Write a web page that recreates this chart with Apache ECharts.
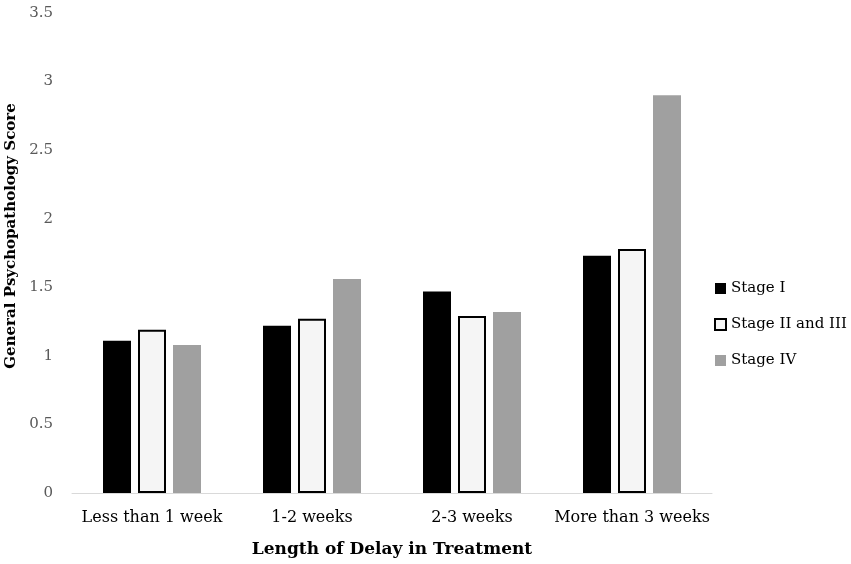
<!DOCTYPE html>
<html>
<head>
<meta charset="utf-8">
<script src="https://cdn.jsdelivr.net/npm/echarts@6/dist/echarts.min.js"></script>
<style>
  html, body { margin: 0; padding: 0; background: #fff; }
  #chart { width: 851px; height: 564px; }
</style>
</head>
<body>
<div id="chart"></div>
<script>
// values
const categories = ['Less than 1 week', '1-2 weeks', '2-3 weeks', 'More than 3 weeks'];
const stageI = [1.11, 1.22, 1.47, 1.73];
const stageIIandIII = [1.19, 1.27, 1.29, 1.78];
const stageIV = [1.08, 1.56, 1.32, 2.9];

const font = 'DejaVu Serif';

const chart = echarts.init(document.getElementById('chart'));
const option = {
  backgroundColor: '#fff',
  animation: false,
  textStyle: { fontFamily: font },
  grid: { left: 72, right: 139, top: 13, bottom: 71, outerBoundsMode: 'none', containLabel: false },
  legend: {
    orient: 'vertical',
    left: 709,
    top: 276,
    icon: 'rect',
    itemWidth: 11,
    itemHeight: 11,
    itemGap: 21,
    textStyle: { fontFamily: font, fontSize: 15, color: '#000' },
    data: ['Stage I', 'Stage II and III', 'Stage IV'],
  },
  xAxis: {
    type: 'category',
    data: categories,
    name: 'Length of Delay in Treatment',
    nameLocation: 'middle',
    nameGap: 48,
    nameTextStyle: { fontFamily: font, fontSize: 17, fontWeight: 'bold', color: '#000' },
    axisLine: { lineStyle: { color: '#d9d9d9', width: 1 } },
    axisTick: { show: false },
    axisLabel: { interval: 0, fontFamily: font, fontSize: 16, color: '#000', margin: 17 },
  },
  yAxis: {
    type: 'value',
    min: 0,
    max: 3.5,
    interval: 0.5,
    name: 'General Psychopathology Score',
    nameLocation: 'middle',
    nameGap: 49,
    nameTextStyle: {
      fontFamily: font, fontSize: 15, fontWeight: 'bold', color: '#000',
      padding: [0, 0, 0, 34],
    },
    axisLine: { show: false },
    axisTick: { show: false },
    splitLine: { show: false },
    axisLabel: { fontFamily: font, fontSize: 15, color: '#595959', margin: 19 },
  },
  series: [
    {
      name: 'Stage I',
      type: 'bar',
      data: stageI,
      barWidth: 28,
      barGap: '25%',
      itemStyle: { color: '#000' },
    },
    {
      name: 'Stage II and III',
      type: 'bar',
      data: stageIIandIII,
      barWidth: 28,
      barGap: '25%',
      itemStyle: { color: '#f5f5f5', borderColor: '#000', borderWidth: 2 },
    },
    {
      name: 'Stage IV',
      type: 'bar',
      data: stageIV,
      barWidth: 28,
      barGap: '25%',
      itemStyle: { color: '#a0a0a0' },
    },
  ],
};

chart.setOption(option);
</script>
</body>
</html>
